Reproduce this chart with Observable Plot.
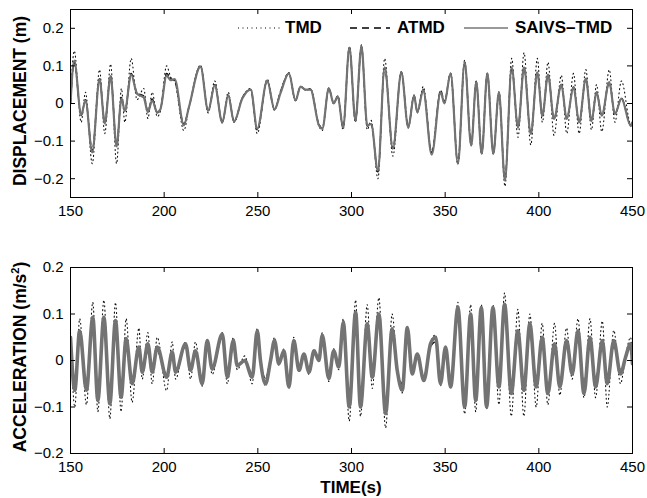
<!DOCTYPE html>
<html>
<head>
<meta charset="utf-8">
<script src="https://cdn.jsdelivr.net/npm/d3@7"></script>
<script src="https://cdn.jsdelivr.net/npm/@observablehq/plot@0.6"></script>
<style>
  html, body { margin: 0; padding: 0; background: #fff; }
  #wrap { position: relative; width: 647px; height: 498px; background: #fff; font-family: "Liberation Sans", Arial, sans-serif; overflow: hidden; }
  .panel { position: absolute; left: 0; }
  .ytitle { position: absolute; width: 240px; text-align: center; font-weight: bold; font-size: 17.5px; line-height: 20px; transform: rotate(-90deg); white-space: nowrap; }
  .lg { position: absolute; font-weight: bold; font-size: 17px; line-height: 20px; white-space: nowrap; }
  .lgs { position: absolute; }
</style>
</head>
<body>
<div id="wrap">
  <div id="top" class="panel" style="top:0"></div>
  <div id="bot" class="panel" style="top:232px"></div>
  <div class="ytitle" style="left:-100px; top:91px;">DISPLACEMENT (m)</div>
  <div class="ytitle" style="left:-100px; top:347px;">ACCELERATION (m/s<sup style="font-size:11px;line-height:0">2</sup>)</div>
  <div class="lg" style="left:251px; width:200px; text-align:center; top:478px;">TIME(s)</div>
  <svg class="lgs" style="left:236px; top:18px" width="50" height="20"><line x1="2" x2="45" y1="10" y2="10" stroke="#000" stroke-width="1.1" stroke-dasharray="1,3.5"/></svg>
  <div class="lg" style="left:285px; top:18px;">TMD</div>
  <svg class="lgs" style="left:348px; top:18px" width="50" height="20"><line x1="2" x2="42" y1="10" y2="10" stroke="#000" stroke-width="1.6" stroke-dasharray="7,5"/></svg>
  <div class="lg" style="left:397px; top:18px;">ATMD</div>
  <svg class="lgs" style="left:462px; top:18px" width="50" height="20"><line x1="2" x2="46" y1="10" y2="10" stroke="#777" stroke-width="1.6"/></svg>
  <div class="lg" style="left:515px; top:18px;">SAIVS–TMD</div>
</div>
<script>
// ---------- Data ----------
const xTicks = [150, 200, 250, 300, 350, 400, 450];
const dispTicks = [-0.2, -0.1, 0, 0.1, 0.2];
const accTicks = [-0.2, -0.1, 0, 0.1, 0.2];

// Displacement (m)
const dispTime = [150, 152, 155.7, 158, 161.6, 165.5, 168.3, 171.4, 174.6, 177.2,
  179, 182.4, 185.5, 189.1, 191.3, 193.6, 196.3, 198, 201.3, 203.5,
  205.6, 210.5, 213.2, 219.4, 223.5, 227, 231, 234.2, 237.3, 241.7,
  246.2, 249.7, 255, 258.9, 262, 266.6, 270.1, 272.8, 275.5, 278.1,
  282.6, 284.4, 287.9, 290.5, 292.7, 295.5, 298.9, 302.1, 305.3, 308.4,
  310.5, 314.1, 317.7, 322.1, 326.6, 330.3, 333.4, 335.1, 338.3, 342.8,
  347.6, 349.6, 352.9, 356.8, 360.4, 363.9, 366.6, 369.5, 372.5, 375.7,
  378.7, 381.9, 385.5, 388.9, 392.1, 395.7, 399.2, 401.9, 404.9, 408.1,
  412, 414.9, 418.5, 421.5, 425.1, 428.1, 430.8, 433.6, 437.6, 440.6,
  444.1, 449.1, 450];
const dispSAIVS = [0.0, 0.114, -0.03, 0.008, -0.13, 0.064, -0.053, 0.072, -0.114, 0.013,
  -0.019, 0.077, 0.026, 0.016, -0.023, 0.008, -0.023, -0.015, 0.074, 0.062,
  0.065, -0.058, -0.01, 0.098, -0.019, 0.048, -0.05, 0.021, -0.048, 0.013,
  0.037, -0.067, 0.061, -0.016, 0.026, 0.08, 0.008, 0.045, 0.037, 0.037,
  -0.058, -0.067, 0.04, 0.0, 0.019, -0.064, 0.149, -0.045, 0.152, -0.058,
  -0.055, -0.178, 0.096, -0.12, 0.083, -0.064, 0.021, -0.023, 0.035, -0.136,
  0.03, 0.0, 0.08, -0.16, 0.11, -0.112, 0.057, -0.134, 0.08, -0.134,
  0.03, -0.205, 0.096, -0.064, 0.096, -0.081, 0.083, -0.032, 0.077, -0.041,
  0.05, -0.041, 0.043, -0.05, 0.066, -0.047, 0.03, -0.032, 0.057, -0.028,
  0.013, -0.06, -0.05];
const dispATMD = [0.0, 0.11, -0.032, 0.01, -0.125, 0.066, -0.05, 0.074, -0.11, 0.016,
  -0.02, 0.08, 0.028, 0.02, -0.02, 0.012, -0.025, -0.015, 0.08, 0.066,
  0.06, -0.055, -0.01, 0.1, -0.02, 0.05, -0.05, 0.022, -0.048, 0.015,
  0.037, -0.07, 0.06, -0.016, 0.03, 0.08, 0.008, 0.045, 0.036, 0.038,
  -0.055, -0.066, 0.04, 0.0, 0.02, -0.064, 0.15, -0.046, 0.152, -0.06,
  -0.055, -0.182, 0.095, -0.12, 0.084, -0.062, 0.022, -0.022, 0.037, -0.13,
  0.035, 0.005, 0.08, -0.16, 0.11, -0.11, 0.058, -0.132, 0.08, -0.132,
  0.03, -0.2, 0.095, -0.062, 0.095, -0.08, 0.082, -0.032, 0.076, -0.04,
  0.05, -0.04, 0.044, -0.05, 0.065, -0.046, 0.03, -0.032, 0.056, -0.028,
  0.014, -0.058, -0.05];
const dispTMD = [0.01, 0.14, -0.05, 0.03, -0.16, 0.09, -0.08, 0.105, -0.16, 0.04,
  -0.05, 0.12, 0.01, 0.04, -0.04, 0.03, -0.035, -0.02, 0.1, 0.07,
  0.06, -0.072, -0.012, 0.102, -0.025, 0.06, -0.052, 0.03, -0.05, 0.015,
  0.04, -0.08, 0.065, -0.018, 0.03, 0.082, 0.008, 0.046, 0.036, 0.04,
  -0.06, -0.072, 0.042, 0.0, 0.02, -0.07, 0.152, -0.05, 0.156, -0.07,
  -0.045, -0.2, 0.12, -0.14, 0.085, -0.065, 0.02, -0.025, 0.045, -0.13,
  0.03, 0.0, 0.08, -0.16, 0.115, -0.112, 0.06, -0.135, 0.08, -0.135,
  0.03, -0.22, 0.12, -0.09, 0.135, -0.11, 0.12, -0.05, 0.11, -0.085,
  0.075, -0.08, 0.08, -0.08, 0.09, -0.07, 0.05, -0.075, 0.09, -0.05,
  0.06, -0.055, -0.045];

// Acceleration (m/s^2)
const accTime = [150, 152.3, 154.9, 158.5, 161.9, 164.6, 167.8, 171, 174, 177,
  179.7, 182.9, 186.5, 188.3, 191.3, 193.6, 196.3, 201.3, 204.3, 206.1,
  211.4, 214.1, 216.7, 220.3, 223, 225.6, 231, 233.7, 236.9, 239,
  243, 247, 249.7, 251.4, 254.1, 256.8, 258.9, 261.2, 263.9, 266.6,
  269.2, 272, 274.6, 277.3, 280, 282.6, 284.4, 287.9, 290.5, 293.2,
  295.6, 298.8, 302.2, 304.8, 308.4, 311.1, 314.6, 318.2, 321.7, 324.4,
  327.1, 329.8, 332.4, 335.1, 338.6, 342.2, 344.9, 347.5, 350.2, 352.9,
  356.8, 360.4, 363.6, 366.3, 369.3, 372.1, 375.5, 378.7, 381.7, 385.3,
  388.8, 392, 395.2, 398.6, 401.8, 404.8, 408.4, 411.2, 414.8, 417.8,
  420.9, 424.1, 427.3, 430.3, 433.9, 436.5, 440, 443.6, 446.3, 449, 450];
const accSAIVS = [0.05, -0.064, 0.064, -0.064, 0.093, -0.086, 0.093, -0.093, 0.086, -0.079,
  0.047, -0.05, 0.029, -0.025, 0.036, -0.025, 0.029, -0.036, 0.018, -0.025,
  0.036, -0.021, 0.021, -0.05, 0.043, -0.018, 0.057, -0.036, 0.043, -0.011,
  0.0, -0.036, 0.064, 0.0, -0.05, 0.0, 0.043, -0.007, 0.021, -0.057,
  0.043, -0.021, 0.014, -0.025, 0.021, 0.0, 0.054, -0.039, 0.021, -0.014,
  0.082, -0.1, 0.104, -0.1, 0.079, -0.036, 0.1, -0.114, 0.068, -0.021,
  -0.064, 0.071, -0.029, 0.014, -0.043, 0.036, 0.05, -0.05, 0.029, -0.057,
  0.114, -0.1, 0.1, -0.086, 0.114, -0.1, 0.114, -0.057, 0.121, -0.071,
  0.064, -0.064, 0.079, -0.057, 0.05, -0.071, 0.036, -0.057, 0.043, -0.029,
  0.064, -0.071, 0.05, -0.057, 0.043, -0.05, 0.043, -0.029, 0.007, 0.036, -0.007];
const accATMD = [0.03, -0.05, 0.05, -0.06, 0.08, -0.075, 0.085, -0.08, 0.07, -0.06,
  0.04, -0.04, 0.03, -0.02, 0.02, -0.02, 0.02, -0.03, 0.02, -0.02,
  0.03, -0.02, 0.02, -0.04, 0.03, -0.02, 0.05, -0.03, 0.03, -0.01,
  0.0, -0.03, 0.05, 0.0, -0.04, 0.005, 0.04, -0.005, 0.02, -0.05,
  0.04, -0.02, 0.012, -0.02, 0.02, 0.0, 0.05, -0.03, 0.02, -0.012,
  0.07, -0.08, 0.08, -0.08, 0.07, -0.03, 0.09, -0.1, 0.06, -0.02,
  -0.05, 0.06, -0.025, 0.012, -0.035, 0.03, 0.04, -0.04, 0.025, -0.05,
  0.1, -0.08, 0.09, -0.08, 0.1, -0.09, 0.1, -0.05, 0.1, -0.05,
  0.05, -0.05, 0.06, -0.04, 0.04, -0.06, 0.03, -0.05, 0.04, -0.03,
  0.05, -0.05, 0.04, -0.04, 0.03, -0.04, 0.03, -0.02, 0.005, 0.03, -0.005];
const accTMD = [0.06, -0.1, 0.09, -0.095, 0.125, -0.11, 0.13, -0.125, 0.125, -0.11,
  0.09, -0.09, 0.07, -0.04, 0.06, -0.05, 0.05, -0.065, 0.04, -0.04,
  0.04, -0.04, 0.04, -0.055, 0.045, -0.03, 0.06, -0.05, 0.05, -0.02,
  0.01, -0.05, 0.07, 0.0, -0.055, 0.0, 0.05, -0.01, 0.025, -0.06,
  0.05, -0.025, 0.015, -0.03, 0.025, 0.0, 0.06, -0.045, 0.025, -0.02,
  0.09, -0.13, 0.13, -0.12, 0.12, -0.06, 0.135, -0.145, 0.1, -0.02,
  -0.07, 0.07, -0.03, 0.015, -0.045, 0.04, 0.055, -0.055, 0.03, -0.06,
  0.125, -0.115, 0.12, -0.11, 0.12, -0.105, 0.12, -0.095, 0.145, -0.12,
  0.11, -0.12, 0.1, -0.1, 0.08, -0.095, 0.08, -0.075, 0.07, -0.04,
  0.09, -0.08, 0.09, -0.08, 0.085, -0.1, 0.065, -0.05, 0.01, 0.05, -0.01];

// ---------- Build ----------
const fmtY = d => d === 0 ? "0" : d.toFixed(1).replace("-", "\u2212");
const rows = (t, v) => t.map((x, i) => ({t: x, v: v[i]}));

function panel({height, marginTop, marginBottom, yDomain, yTicks, series, grayWidth, curve}) {
  const marginLeft = 70, marginRight = 15, width = 647;
  const fw = width - marginLeft - marginRight;
  const fh = height - marginTop - marginBottom;
  const tk = 5;
  return Plot.plot({
    width, height, marginLeft, marginRight, marginTop, marginBottom,
    x: {domain: [150, 450]},
    y: {domain: yDomain},
    style: {fontFamily: "'Liberation Sans', Arial, sans-serif", fontSize: "15px", color: "#000", background: "#fff", overflow: "visible"},
    marks: [
      Plot.lineY(series.tmd, {x: "t", y: "v", curve, stroke: "#111", strokeWidth: 1.1, strokeDasharray: "1,3.2", clip: true}),
      Plot.lineY(series.atmd, {x: "t", y: "v", curve, stroke: "#000", strokeWidth: 1.4, strokeDasharray: "5,3", clip: true}),
      Plot.lineY(series.saivs, {x: "t", y: "v", curve, stroke: "#737373", strokeWidth: grayWidth, clip: true}),
      Plot.frame({stroke: "#000", strokeWidth: 1}),
      Plot.tickX(xTicks.slice(1, -1), {x: d => d, insetTop: fh - tk, stroke: "#000"}),
      Plot.tickX(xTicks.slice(1, -1), {x: d => d, insetBottom: fh - tk, stroke: "#000"}),
      Plot.tickY(yTicks, {y: d => d, insetRight: fw - tk, stroke: "#000"}),
      Plot.tickY(yTicks, {y: d => d, insetLeft: fw - tk, stroke: "#000"}),
      Plot.axisX(xTicks, {anchor: "bottom", tickSize: 0, tickPadding: 8, label: null, tickFormat: d => String(d)}),
      Plot.axisY(yTicks, {anchor: "left", tickSize: 0, tickPadding: 7, label: null, tickFormat: fmtY})
    ]
  });
}

document.getElementById("top").appendChild(panel({
  height: 232, marginTop: 9, marginBottom: 35,
  yDomain: [-0.25, 0.25], yTicks: dispTicks, grayWidth: 2.2, curve: "monotone-x",
  series: {tmd: rows(dispTime, dispTMD), atmd: rows(dispTime, dispATMD), saivs: rows(dispTime, dispSAIVS)}
}));
document.getElementById("bot").appendChild(panel({
  height: 266, marginTop: 35, marginBottom: 45,
  yDomain: [-0.2, 0.2], yTicks: accTicks, grayWidth: 3.6, curve: "monotone-x",
  series: {tmd: rows(accTime, accTMD), atmd: rows(accTime, accATMD), saivs: rows(accTime, accSAIVS)}
}));
</script>
</body>
</html>
